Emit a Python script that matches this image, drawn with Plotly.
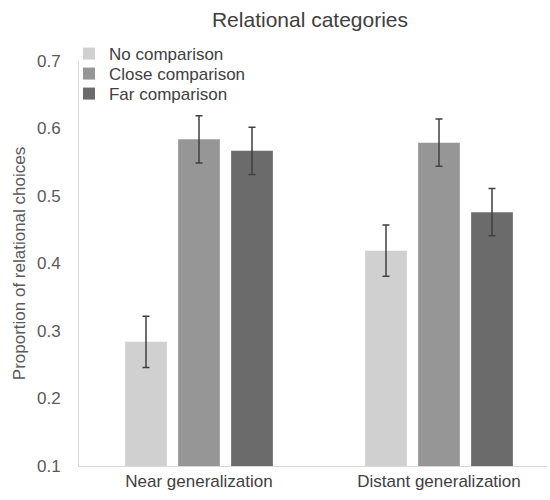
import plotly.graph_objects as go

categories = ["Near generalization", "Distant generalization"]
series_names = ["No comparison", "Close comparison", "Far comparison"]
values = {
    "No comparison": [0.284, 0.419],
    "Close comparison": [0.584, 0.579],
    "Far comparison": [0.567, 0.476],
}
errors = {
    "No comparison": [0.038, 0.038],
    "Close comparison": [0.035, 0.035],
    "Far comparison": [0.035, 0.035],
}
colors = ["#d0d0d0", "#969696", "#6b6b6b"]
legend_ids = ["legend", "legend2", "legend3"]

fig = go.Figure()
for name, col, lg in zip(series_names, colors, legend_ids):
    fig.add_trace(go.Bar(
        x=[0, 1], y=values[name], name=name, legend=lg,
        marker=dict(color=col, line=dict(width=0)),
        error_y=dict(type="data", array=errors[name], color="#404040", thickness=1.5, width=3.5),
    ))

font = "Liberation Sans, Arial, sans-serif"
leg_common = dict(xanchor="left", yanchor="top", bgcolor="rgba(0,0,0,0)",
                  font=dict(size=17, color="#404040"), itemwidth=30)
fig.update_layout(
    width=550, height=500,
    margin=dict(l=79, r=3, t=61, b=34),
    paper_bgcolor="white", plot_bgcolor="white",
    barmode="group", bargap=0.3375, bargroupgap=0.213,
    font=dict(family=font, size=17, color="#595959"),
    title=dict(text="Relational categories", x=310/550, xref="container", xanchor="center",
               y=0.96, yanchor="middle", font=dict(size=21, color="#404040")),
    xaxis=dict(range=[-0.5, 1.45], tickmode="array", tickvals=[0, 1], ticktext=categories,
               showline=True, linecolor="#d9d9d9", linewidth=1, ticks="", showgrid=False,
               zeroline=False, automargin=False, tickfont=dict(size=17, color="#404040")),
    yaxis=dict(range=[0.1, 0.7], tickvals=[0.1, 0.2, 0.3, 0.4, 0.5, 0.6, 0.7],
               ticktext=["0.1", "0.2", "0.3", "0.4", "0.5", "0.6", "0.7"],
               showline=True, linecolor="#d9d9d9", linewidth=1, ticks="", showgrid=False,
               zeroline=False, automargin=False, ticklabelstandoff=14,
               tickfont=dict(size=17, color="#595959"),
               title=dict(text="Proportion of relational choices", font=dict(size=17, color="#595959"),
                          standoff=7)),
    legend=dict(x=-0.0214, y=1.0617, **leg_common),
    legend2=dict(x=-0.0214, y=1.0123, **leg_common),
    legend3=dict(x=-0.0214, y=0.9629, **leg_common),
    showlegend=True,
)

fig.write_html("out.html", post_script="document.body.style.margin='0';",
               config={"displayModeBar": False})
